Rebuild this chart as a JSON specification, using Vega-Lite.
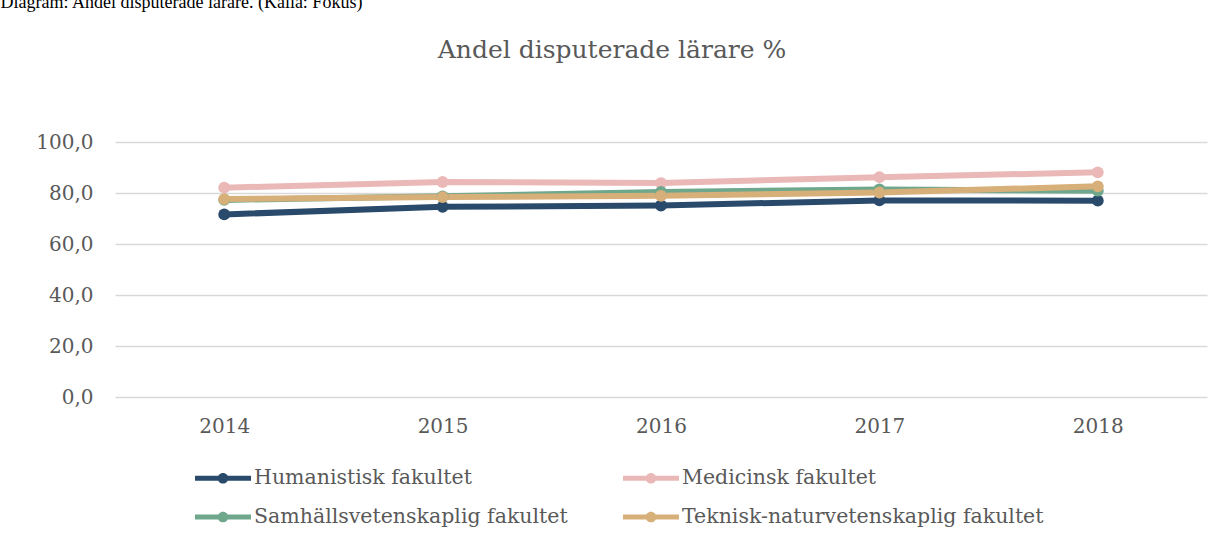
{
  "$schema": "https://vega.github.io/schema/vega-lite/v6.json",
  "autosize": "none",
  "width": 1092,
  "height": 255,
  "padding": {"left": 115, "top": 142, "right": 17, "bottom": 150},
  "background": "white",
  "title": {
    "text": "Andel disputerade lärare %",
    "anchor": "middle",
    "frame": "group",
    "dx": -49,
    "offset": -70,
    "font": "DejaVu Serif",
    "fontSize": 25,
    "fontWeight": "normal",
    "color": "#595959"
  },
  "data": {
    "values": [
      {"year": "2014", "faculty": "Humanistisk fakultet", "value": 71.6},
      {"year": "2015", "faculty": "Humanistisk fakultet", "value": 74.6},
      {"year": "2016", "faculty": "Humanistisk fakultet", "value": 75.1},
      {"year": "2017", "faculty": "Humanistisk fakultet", "value": 77.1},
      {"year": "2018", "faculty": "Humanistisk fakultet", "value": 77.0},
      {"year": "2014", "faculty": "Medicinsk fakultet", "value": 82.1},
      {"year": "2015", "faculty": "Medicinsk fakultet", "value": 84.3},
      {"year": "2016", "faculty": "Medicinsk fakultet", "value": 83.9},
      {"year": "2017", "faculty": "Medicinsk fakultet", "value": 86.2},
      {"year": "2018", "faculty": "Medicinsk fakultet", "value": 88.1},
      {"year": "2014", "faculty": "Samhällsvetenskaplig fakultet", "value": 77.3},
      {"year": "2015", "faculty": "Samhällsvetenskaplig fakultet", "value": 78.7},
      {"year": "2016", "faculty": "Samhällsvetenskaplig fakultet", "value": 80.4},
      {"year": "2017", "faculty": "Samhällsvetenskaplig fakultet", "value": 81.4},
      {"year": "2018", "faculty": "Samhällsvetenskaplig fakultet", "value": 80.9},
      {"year": "2014", "faculty": "Teknisk-naturvetenskaplig fakultet", "value": 77.6},
      {"year": "2015", "faculty": "Teknisk-naturvetenskaplig fakultet", "value": 78.4},
      {"year": "2016", "faculty": "Teknisk-naturvetenskaplig fakultet", "value": 78.9},
      {"year": "2017", "faculty": "Teknisk-naturvetenskaplig fakultet", "value": 80.2},
      {"year": "2018", "faculty": "Teknisk-naturvetenskaplig fakultet", "value": 82.6}
    ]
  },
  "encoding": {
    "x": {
      "field": "year",
      "type": "ordinal",
      "scale": {"type": "point", "padding": 0.5},
      "axis": {
        "title": null,
        "labelAngle": 0,
        "domain": false,
        "ticks": false,
        "grid": false,
        "labelPadding": 19,
        "labelFont": "DejaVu Serif",
        "labelFontSize": 20,
        "labelColor": "#595959"
      }
    },
    "y": {
      "field": "value",
      "type": "quantitative",
      "scale": {"domain": [0, 100], "nice": false},
      "axis": {
        "values": [0, 20, 40, 60, 80, 100],
        "labelExpr": "replace(format(datum.value, '.1f'), '.', ',')",
        "domain": false,
        "ticks": false,
        "grid": true,
        "gridColor": "#d9d9d9",
        "gridWidth": 1.3,
        "labelPadding": 22,
        "labelFont": "DejaVu Serif",
        "labelFontSize": 20,
        "labelColor": "#595959",
        "title": "Diagram: Andel disputerade lärare. (Källa: Fokus)",
        "titleAngle": 0,
        "titleAlign": "left",
        "titleBaseline": "alphabetic",
        "titleX": -115,
        "titleY": -135,
        "titleFont": "Liberation Serif",
        "titleFontSize": 18,
        "titleFontWeight": "normal",
        "titleColor": "#000000"
      }
    },
    "color": {
      "field": "faculty",
      "type": "nominal",
      "scale": {
        "domain": ["Humanistisk fakultet", "Medicinsk fakultet", "Samhällsvetenskaplig fakultet", "Teknisk-naturvetenskaplig fakultet"],
        "range": ["#294a6b", "#eab8b7", "#6fa78d", "#d7af78"]
      },
      "legend": {
        "title": null,
        "orient": "none",
        "legendX": 80,
        "legendY": 308,
        "direction": "horizontal",
        "columns": 2,
        "columnPadding": 55,
        "rowPadding": -8,
        "symbolType": "M-1,-0.09 L1,-0.09 L1,0.09 L-1,0.09 Z M0.19,0 A0.19,0.19 0 1,1 -0.19,0 A0.19,0.19 0 1,1 0.19,0 Z",
        "symbolSize": 3136,
        "symbolStrokeWidth": 0,
        "symbolOpacity": 1,
        "labelOffset": 3,
        "labelFont": "DejaVu Serif",
        "labelFontSize": 20.5,
        "labelColor": "#595959",
        "labelLimit": 500
      }
    }
  },
  "layer": [
    {"mark": {"type": "line", "strokeWidth": 6, "strokeCap": "round"}},
    {"mark": {"type": "point", "filled": true, "size": 140, "opacity": 1}}
  ],
  "config": {"view": {"stroke": null}}
}
